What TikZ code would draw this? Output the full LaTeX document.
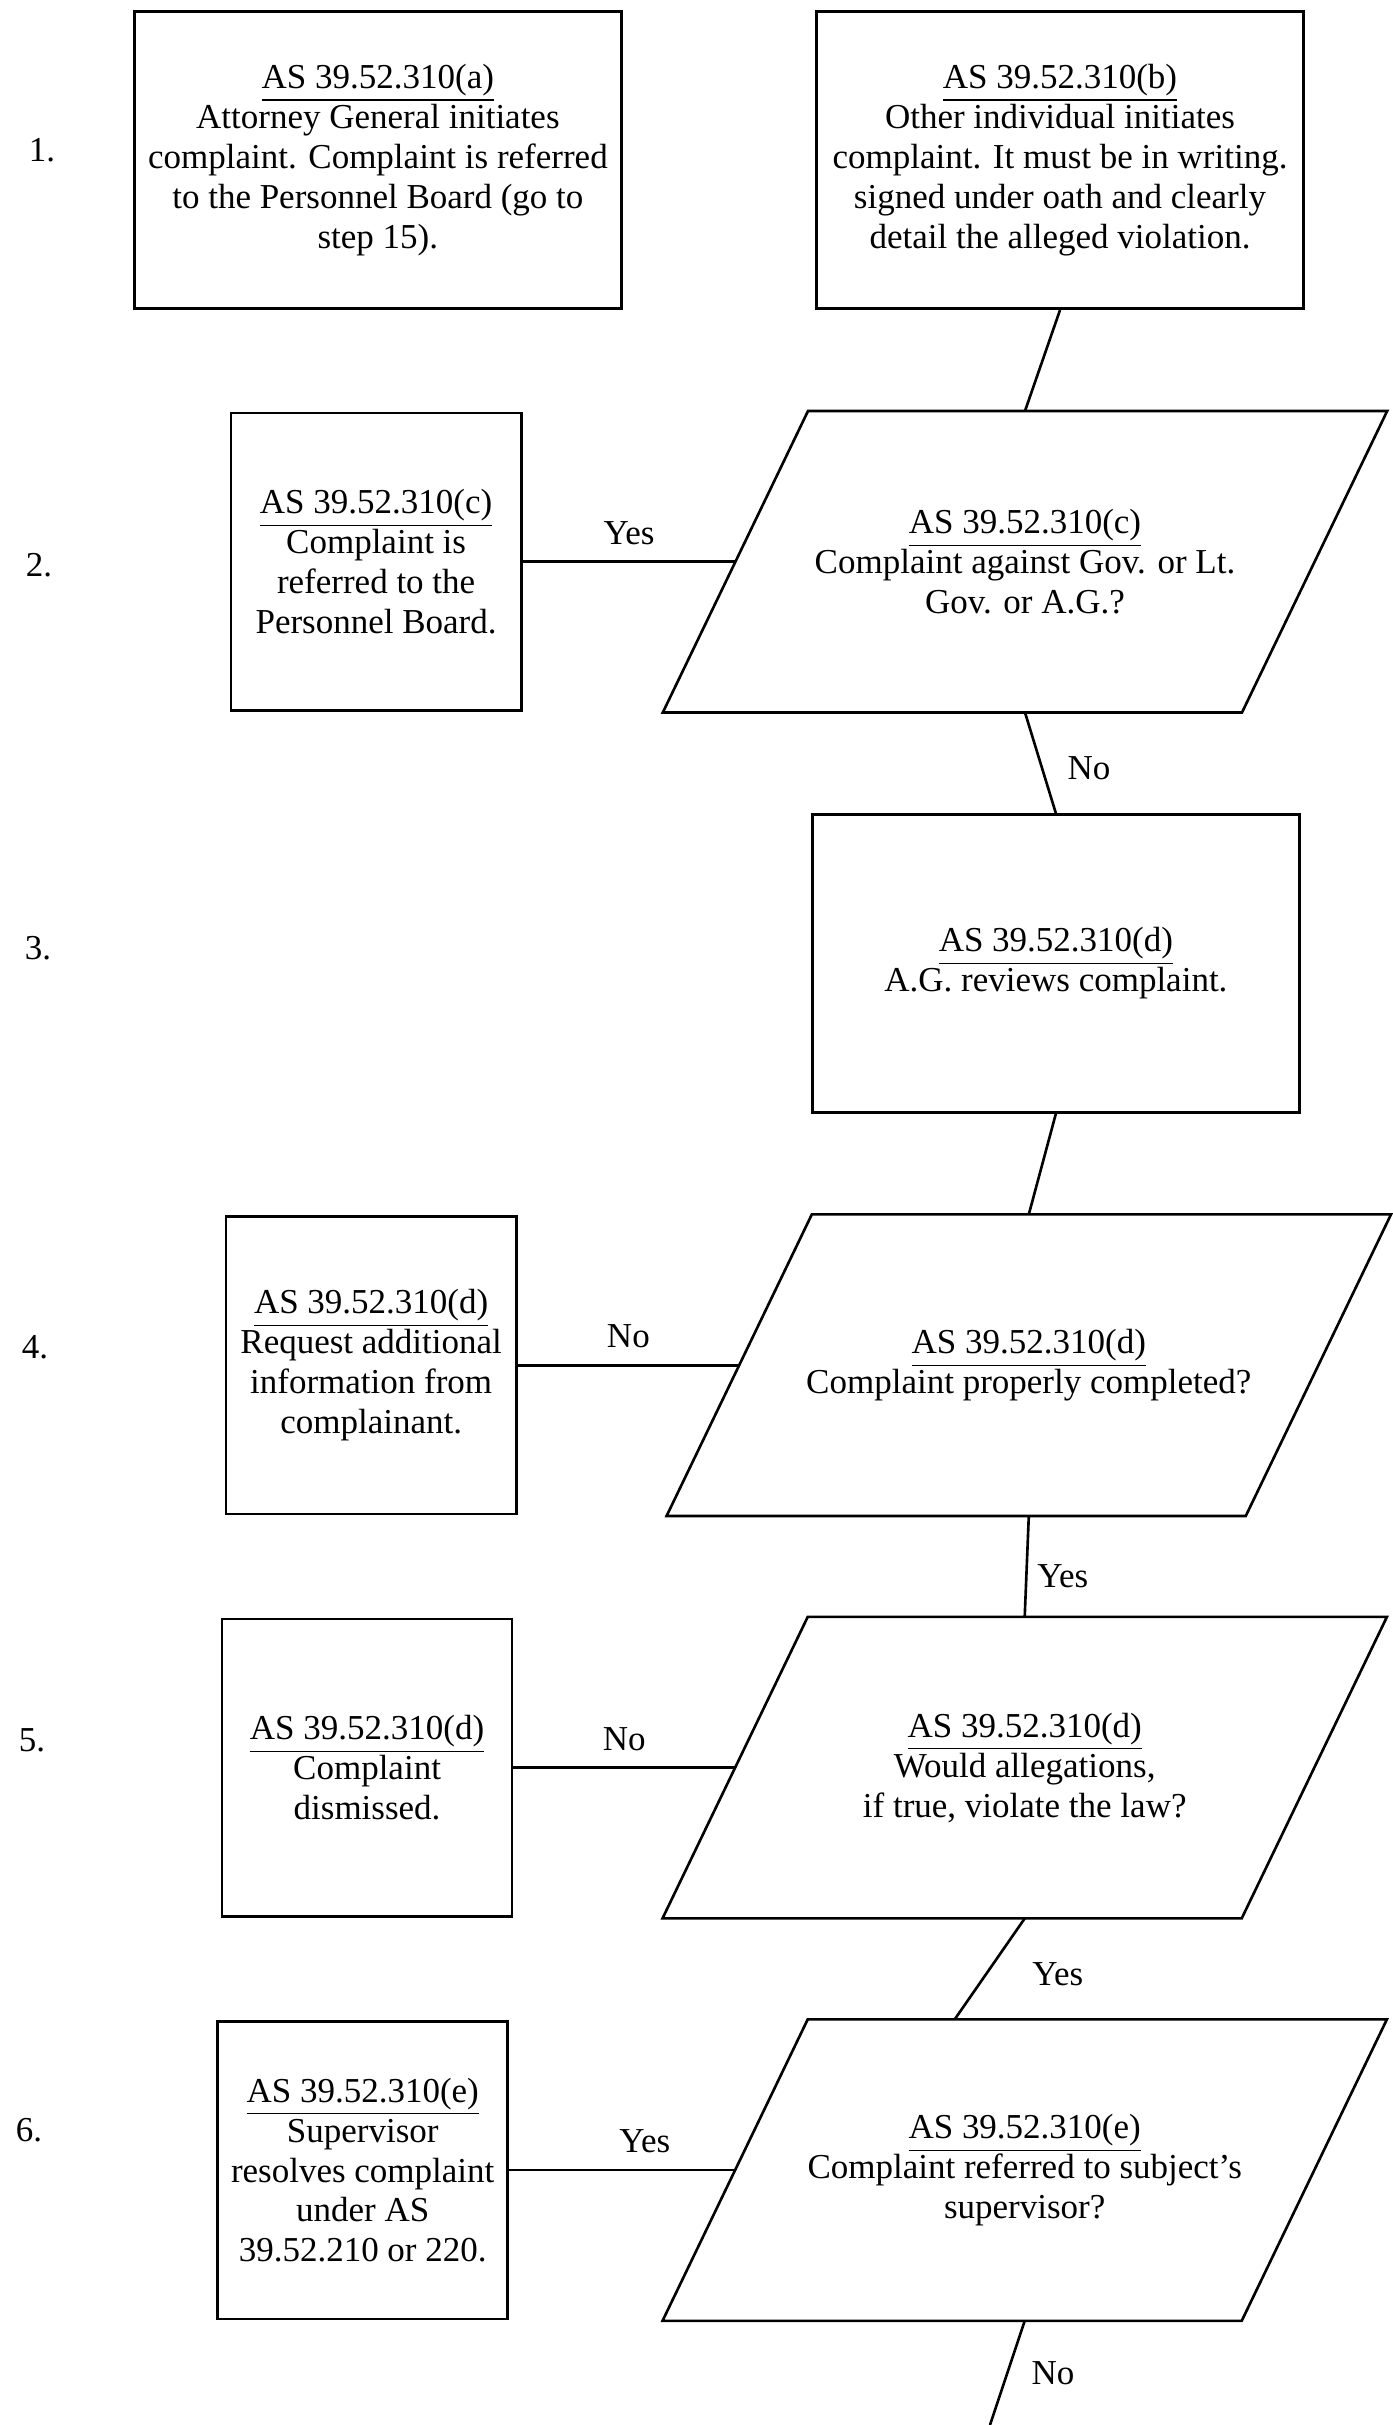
\documentclass[tikz,border=0pt]{standalone}
\usepackage{fontspec}
\setmainfont{Liberation Serif}
\usetikzlibrary{positioning}

\begin{document}
\begin{tikzpicture}[
    x=0.3429pt, y=-0.3429pt,
    every node/.style={font=\fontsize{12pt}{13.7pt}\selectfont},
    act/.style={
      rectangle,
      draw=black,
      line width=0.9pt,
      align=center,
      minimum width=167pt,
      minimum height=102pt},
    side/.style={act, minimum width=99.5pt},
    ask/.style={
      rectangle,
      align=center,
      minimum width=198.2pt,
      minimum height=103pt},
    link/.style={draw=black, line width=0.9pt},
    node distance=34.6pt and 75pt
  ]
  \useasboundingbox (0,0) rectangle (1393,2425);

  % step numbers
  \foreach \n/\xx/\yy in {1/42/150, 2/39/565, 3/38/948, 4/35/1347, 5/32/1740, 6/29/2130}
    \node (step\n) at (\xx,\yy) {\n.};

  % main column
  \node[act] (B) at (1060,160) {\underline{AS 39.52.310(b)}\\Other individual initiates\\complaint. It must be in writing.\\signed under oath and clearly\\detail the alleged violation.};
  \node[act, left=66pt of B] (A) {\underline{AS 39.52.310(a)}\\Attorney General initiates\\complaint. Complaint is referred\\to the Personnel Board (go to\\step 15).};

  \node[ask, below=of B, xshift=-12pt] (P1) {\underline{AS 39.52.310(c)}\\Complaint against Gov. or Lt.\\Gov. or A.G.?};
  \node[act, below=of P1, xshift=10.6pt] (D) {\underline{AS 39.52.310(d)}\\A.G. reviews complaint.};
  \node[ask, below=of D, xshift=-9.3pt] (P2) {\underline{AS 39.52.310(d)}\\Complaint properly completed?};
  \node[ask, below=of P2, xshift=-1.4pt] (P3) {\underline{AS 39.52.310(d)}\\Would allegations,\\if true, violate the law?};
  \node[ask, below=of P3] (P4) {\underline{AS 39.52.310(e)}\\Complaint referred to subject's\\supervisor?};

  % slanted outlines of the questions
  \foreach \p in {P1,P2,P3,P4}
    \draw[link] ([xshift=24.9pt]\p.north west) -- ([xshift=24.9pt]\p.north east)
      -- ([xshift=-24.9pt]\p.south east) -- ([xshift=-24.9pt]\p.south west) -- cycle;

  % side boxes
  \node[side, left=73pt of P1] (C) {\underline{AS 39.52.310(c)}\\Complaint is\\referred to the\\Personnel Board.};
  \node[side, left=76pt of P2] (E) {\underline{AS 39.52.310(d)}\\Request additional\\information from\\complainant.};
  \node[side, left=76pt of P3] (F) {\underline{AS 39.52.310(d)}\\Complaint\\dismissed.};
  \node[side, left=77.5pt of P4] (G) {\underline{AS 39.52.310(e)}\\Supervisor\\resolves complaint\\under AS\\39.52.210 or 220.};

  \coordinate (out) at (990,2425);

  % connectors
  \draw[link] (B.south) -- (P1.north);
  \draw[link] (P1.south) -- node[right=5pt, pos=0.55] {No} (D.north);
  \draw[link] (D.south) -- (P2.north);
  \draw[link] (P2.south) -- node[right, pos=0.6] {Yes} (P3.north);
  \draw[link] (P3.south) -- node[right=12pt, pos=0.55] {Yes} ([xshift=-24pt]P4.north);
  \draw[link] (P4.south) -- node[right=4.5pt, pos=0.5] {No} (out);

  \draw[link] (C.east) -- node[above=2pt] {Yes} (P1.west);
  \draw[link] (E.east) -- node[above=2pt] {No} (P2.west);
  \draw[link] (F.east) -- node[above=2pt] {No} (P3.west);
  \draw[link] (G.east) -- node[above=2pt, pos=0.6] {Yes} (P4.west);
\end{tikzpicture}
\end{document}
